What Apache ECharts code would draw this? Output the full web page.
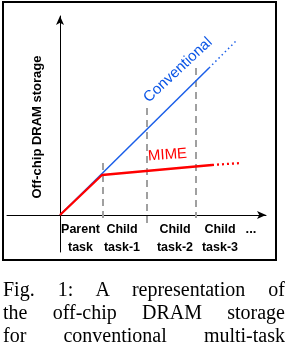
<!DOCTYPE html>
<html>
<head>
<meta charset="utf-8">
<script src="https://cdn.jsdelivr.net/npm/echarts@6/dist/echarts.min.js"></script>
<style>
  html, body { margin: 0; padding: 0; background: #fff; }
  #wrap { position: relative; width: 288px; height: 354px; overflow: hidden; }
  #chart { position: absolute; left: 0; top: 0; width: 288px; height: 354px; }
  #caption { position: absolute; left: 3px; top: 278px; width: 282px;
    font-family: "Liberation Serif", "Times New Roman", serif; font-size: 20px;
    line-height: 23px; color: #000; }
  #caption div { text-align: justify; text-align-last: justify; white-space: nowrap; }
</style>
</head>
<body>
<div id="wrap">
  <div id="chart"></div>
  <div id="caption"></div>
</div>
<script>
// ---- data (arbitrary storage / time units) ----
const taskBoundaries = [43, 87, 136];          // x of the dashed separators
const boundaryTops = [52, 107, 147];
const boundaryBottoms = [-8, -8, -3];
const conventionalSolid = [[0, 0], [149, 147]];
const conventionalDotted = [[149, 147], [176, 174]];
const mimeSolid = [[0, 0], [42, 40], [152, 50]];
const mimeDotted = [[152, 50], [181, 52]];
const taskLabels = [["Parent", "task"], ["Child", "task-1"], ["Child", "task-2"], ["Child", "task-3"]];
const taskLabelX = [80.5, 122, 175, 220];
const yAxisTitle = "Off-chip DRAM storage";
const captionLines = ["Fig. 1: A representation of", "the off-chip DRAM storage", "for conventional multi-task"];

document.getElementById('caption').innerHTML = captionLines.map(l => '<div>' + l + '</div>').join('');

const chart = echarts.init(document.getElementById('chart'), null, { renderer: 'canvas' });

const blue = '#1a5ee8';
const red = '#ff0000';
const gray = '#a0a0a0';

const series = [];
taskBoundaries.forEach((x, i) => {
  series.push({
    type: 'line', symbol: 'none', silent: true, z: 1,
    data: [[x, boundaryTops[i]], [x, boundaryBottoms[i]]],
    lineStyle: { color: gray, width: 2, type: [7, 5] }
  });
});
series.push({ type: 'line', symbol: 'none', z: 2, data: conventionalSolid, lineStyle: { color: blue, width: 1.5 } });
series.push({ type: 'line', symbol: 'none', z: 2, data: conventionalDotted, lineStyle: { color: blue, width: 1.5, type: [1.5, 3] } });
series.push({ type: 'line', symbol: 'none', z: 3, data: mimeSolid, lineStyle: { color: red, width: 2.3 } });
series.push({ type: 'line', symbol: 'none', z: 3, data: mimeDotted, lineStyle: { color: red, width: 2.3, type: [2, 3] } });

const axisCommon = {
  type: 'value',
  splitLine: { show: false },
  axisTick: { show: false },
  axisLabel: { show: false },
  axisLine: { show: true, onZero: true, symbol: ['none', 'arrow'], symbolSize: [6, 9],
    lineStyle: { color: '#000', width: 1 } }
};

const graphics = [
  { type: 'rect', shape: { x: 3, y: 2, width: 273, height: 258 }, style: { fill: 'none', stroke: '#000', lineWidth: 2 } },
  { type: 'text', x: 37, y: 127, rotation: Math.PI / 2,
    style: { text: yAxisTitle, font: 'bold 13px "Liberation Sans", Arial, sans-serif', fill: '#000', align: 'center', verticalAlign: 'middle' } },
  { type: 'text', x: 178, y: 70, rotation: 43 * Math.PI / 180,
    style: { text: 'Conventional', font: '15px "Liberation Sans", Arial, sans-serif', fill: '#0a55e6', align: 'center', verticalAlign: 'middle' } },
  { type: 'text', x: 167.5, y: 155, rotation: 4 * Math.PI / 180,
    style: { text: 'MIME', font: '15px "Liberation Sans", Arial, sans-serif', fill: red, align: 'center', verticalAlign: 'middle' } },
  { type: 'text', x: 251, y: 229,
    style: { text: '...', font: 'bold 13px "Liberation Sans", Arial, sans-serif', fill: '#000', align: 'center', verticalAlign: 'middle' } }
];
taskLabels.forEach((lines, i) => {
  lines.forEach((t, j) => {
    graphics.push({ type: 'text', x: taskLabelX[i], y: 230 + j * 18,
      style: { text: t, font: 'bold 12.5px "Liberation Sans", Arial, sans-serif', fill: '#000', align: 'center', verticalAlign: 'middle' } });
  });
});

chart.setOption({
  animation: false,
  grid: { left: 7, right: 22, top: 16, bottom: 102 },
  xAxis: Object.assign({}, axisCommon, { min: -53, max: 206 }),
  yAxis: Object.assign({}, axisCommon, { min: -37, max: 199 }),
  series: series,
  graphic: graphics
});
</script>
</body>
</html>
